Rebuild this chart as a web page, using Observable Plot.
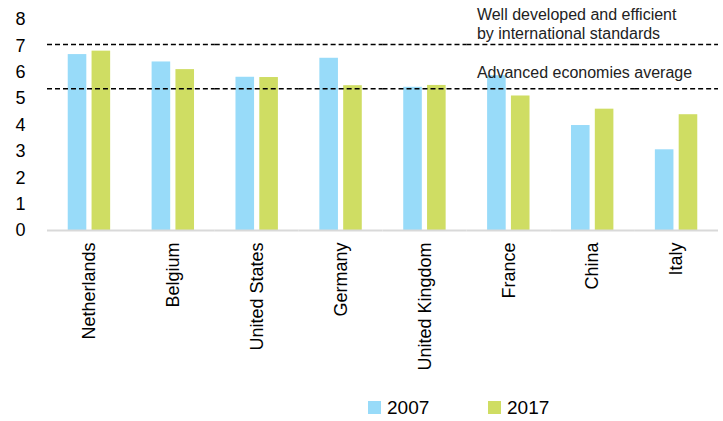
<!DOCTYPE html>
<html>
<head>
<meta charset="utf-8">
<script src="https://cdn.jsdelivr.net/npm/d3@7"></script>
<script src="https://cdn.jsdelivr.net/npm/@observablehq/plot@0.6"></script>
<style>
  body { margin: 0; background: #fff; }
  #chart { width: 723px; height: 421px; overflow: hidden; }
  .legend { display: flex; height: 35px; align-items: center; padding-left: 368px;
            font-family: "Liberation Sans", Arial, sans-serif; font-size: 19px; color: #000; }
  .legend .item { display: flex; align-items: center; width: 120px; }
  .legend .sw { width: 13px; height: 13px; margin-right: 6px; }
</style>
</head>
<body>
<div id="chart"></div>
<script>
const countries = ["Netherlands", "Belgium", "United States", "Germany", "United Kingdom", "France", "China", "Italy"];
const years = ["2007", "2017"];
const values2007 = [6.67, 6.39, 5.81, 6.53, 5.43, 5.87, 3.98, 3.06];
const values2017 = [6.80, 6.10, 5.80, 5.49, 5.50, 5.10, 4.60, 4.39];
const yTicks = [0, 1, 2, 3, 4, 5, 6, 7, 8];
const colors = ["#98dbf9", "#cfdd63"];
const wellDeveloped = 7.05;
const advancedAverage = 5.37;
const wellLabel = "Well developed and efficient\nby international standards";
const avgLabel = "Advanced economies average";

const data = [];
countries.forEach((c, i) => {
  data.push({country: c, year: years[0], value: values2007[i]});
  data.push({country: c, year: years[1], value: values2017[i]});
});

const plot = Plot.plot({
  width: 723,
  height: 390,
  marginTop: 19,
  marginBottom: 160,
  marginLeft: 47,
  marginRight: 5,
  style: {fontFamily: "'Liberation Sans', Arial, sans-serif", fontSize: "18px", color: "#000", background: "#fff"},
  fx: {domain: countries, padding: 0, round: false, tickRotate: -90, tickSize: 0, tickPadding: 12, label: null},
  x: {domain: years, paddingInner: 0.22, paddingOuter: 0.87, round: false, axis: null},
  y: {domain: [0, 8], ticks: yTicks, tickSize: 0, tickPadding: 22, label: null},
  color: {domain: years, range: colors},
  marks: [
    Plot.barY(data, {fx: "country", x: "year", y: "value", fill: "year"}),
    Plot.ruleY([0], {stroke: "#d9d9d9", strokeWidth: 2}),
    Plot.ruleY([wellDeveloped], {stroke: "#000", strokeWidth: 1.5, strokeDasharray: "5,3"}),
    Plot.ruleY([advancedAverage], {stroke: "#000", strokeWidth: 1.5, strokeDasharray: "5,3"}),
    Plot.text([{fx: "France", y: wellDeveloped, t: wellLabel}], {
      fx: "fx", y: "y", text: "t", frameAnchor: "left", textAnchor: "start",
      lineAnchor: "bottom", dx: 10, dy: -6, fontSize: 16, lineHeight: 1.15, fill: "#222"
    }),
    Plot.text([{fx: "France", y: advancedAverage, t: avgLabel}], {
      fx: "fx", y: "y", text: "t", frameAnchor: "left", textAnchor: "start",
      lineAnchor: "bottom", dx: 10, dy: -10.5, fontSize: 16, fill: "#222"
    })
  ]
});

const chart = document.getElementById("chart");
chart.appendChild(plot);

const color = plot.scale("color");
const legend = document.createElement("div");
legend.className = "legend";
color.domain.forEach((y, i) => {
  const item = document.createElement("div");
  item.className = "item";
  const sw = document.createElement("span");
  sw.className = "sw";
  sw.style.background = color.range[i];
  const lab = document.createElement("span");
  lab.textContent = y;
  item.appendChild(sw);
  item.appendChild(lab);
  legend.appendChild(item);
});
chart.appendChild(legend);
</script>
</body>
</html>
